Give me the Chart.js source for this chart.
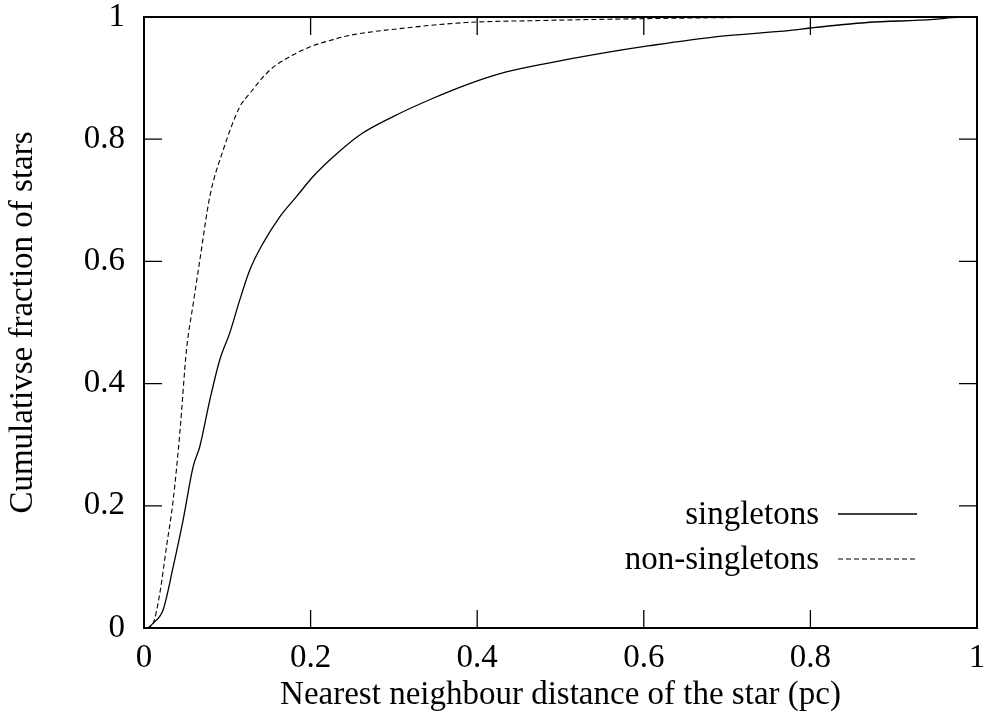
<!DOCTYPE html>
<html>
<head>
<meta charset="utf-8">
<script src="https://cdn.jsdelivr.net/npm/chart.js@4"></script>
<style>
  body { margin: 0; background: #fff; }
  canvas { display: block; }
</style>
</head>
<body>
<canvas id="cdf" width="987" height="717"></canvas>
<script>
// nearest neighbour distance (pc) and cumulative fraction, per population
const singletonDist = [0.005, 0.011, 0.023, 0.035, 0.047, 0.059, 0.067, 0.079, 0.091, 0.103,
  0.115, 0.127, 0.143, 0.163, 0.183, 0.203, 0.227, 0.259, 0.299, 0.347,
  0.387, 0.435, 0.487, 0.547, 0.607, 0.688, 0.776, 0.8,
  0.868, 0.948, 0.97, 1.0];
const singletonFrac = [0, 0.008, 0.03, 0.10, 0.177, 0.264, 0.297, 0.373, 0.439, 0.483,
  0.537, 0.586, 0.63, 0.673, 0.706, 0.739, 0.771, 0.807, 0.837, 0.867,
  0.889, 0.910, 0.925, 0.940, 0.953, 0.968, 0.978, 0.982,
  0.991, 0.996, 0.999, 1.0];

const nonSingletonDist = [0.003, 0.011, 0.019, 0.027, 0.035, 0.043, 0.051, 0.059, 0.067, 0.079,
  0.095, 0.115, 0.127, 0.151, 0.175, 0.199, 0.227, 0.247, 0.307, 0.387,
  0.467, 0.587, 0.7, 0.8, 1.0];
const nonSingletonFrac = [0, 0.008, 0.057, 0.133, 0.209, 0.319, 0.455, 0.53, 0.602, 0.706,
  0.782, 0.853, 0.875, 0.913, 0.935, 0.951, 0.963, 0.970, 0.981, 0.991,
  0.994, 0.997, 0.999, 1.0, 1.0];

const seriesNames = ['singletons', 'non-singletons'];
const xTicks = [0, 0.2, 0.4, 0.6, 0.8, 1];
const yTicks = [0, 0.2, 0.4, 0.6, 0.8, 1];
const xTitle = 'Nearest neighbour distance of the star (pc)';
const yTitle = 'Cumulativse fraction of stars';

const FONT = '"Liberation Serif", "DejaVu Serif", serif';
const FONT_SIZE = 33;

let toPoints = (xs, ys) => xs.map((x, i) => ({x: x, y: ys[i]}));

// gnuplot-style frame with inward ticks on all four sides
const framePlugin = {
  id: 'frame',
  afterDatasetsDraw(chart) {
    let ctx = chart.ctx;
    let a = chart.chartArea;
    let tick = 18;
    ctx.save();
    ctx.strokeStyle = '#000';
    ctx.lineWidth = 1.3;
    ctx.beginPath();
    chart.scales.x.ticks.forEach((t) => {
      let px = chart.scales.x.getPixelForValue(t.value);
      ctx.moveTo(px, a.bottom);
      ctx.lineTo(px, a.bottom - tick);
      ctx.moveTo(px, a.top);
      ctx.lineTo(px, a.top + tick);
    });
    chart.scales.y.ticks.forEach((t) => {
      let py = chart.scales.y.getPixelForValue(t.value);
      ctx.moveTo(a.left, py);
      ctx.lineTo(a.left + tick, py);
      ctx.moveTo(a.right, py);
      ctx.lineTo(a.right - tick, py);
    });
    ctx.stroke();
    ctx.lineWidth = 2;
    ctx.strokeRect(a.left, a.top, a.right - a.left, a.bottom - a.top);
    ctx.restore();
  }
};

// key in the lower right: text first, line sample after it
const keyPlugin = {
  id: 'key',
  afterDraw(chart) {
    let ctx = chart.ctx;
    let a = chart.chartArea;
    ctx.save();
    ctx.font = FONT_SIZE + 'px ' + FONT;
    ctx.fillStyle = '#000';
    ctx.textAlign = 'right';
    ctx.textBaseline = 'middle';
    chart.data.datasets.forEach((ds, i) => {
      let y = a.bottom - 114 + i * 45;
      ctx.fillText(ds.label, a.right - 158, y + 1);
      ctx.beginPath();
      ctx.strokeStyle = ds.borderColor;
      ctx.lineWidth = ds.borderWidth;
      ctx.setLineDash(ds.borderDash || []);
      ctx.moveTo(a.right - 139, y);
      ctx.lineTo(a.right - 60, y);
      ctx.stroke();
    });
    ctx.restore();
  }
};

let tickText = (v) => String(Math.round(v * 10) / 10);

let ctx = document.getElementById('cdf');
let chart = new Chart(ctx, {
  type: 'scatter',
  data: {
    datasets: [
      {
        label: seriesNames[0],
        data: toPoints(singletonDist, singletonFrac),
        showLine: true,
        borderColor: '#000',
        borderWidth: 1.3,
        pointRadius: 0,
        cubicInterpolationMode: 'monotone'
      },
      {
        label: seriesNames[1],
        data: toPoints(nonSingletonDist, nonSingletonFrac),
        showLine: true,
        borderColor: '#000',
        borderWidth: 1.1,
        borderDash: [5, 3],
        pointRadius: 0,
        cubicInterpolationMode: 'monotone'
      }
    ]
  },
  options: {
    responsive: false,
    animation: false,
    layout: {
      padding: {top: 17, right: 10, bottom: 0, left: 0}
    },
    plugins: {
      legend: {display: false},
      tooltip: {enabled: false}
    },
    scales: {
      x: {
        type: 'linear',
        min: 0,
        max: 1,
        afterBuildTicks: (s) => { s.ticks = xTicks.map(v => ({value: v})); },
        afterFit: (s) => { s.height = 89; s.paddingLeft = 0; s.paddingRight = 0; },
        grid: {display: false, drawTicks: false},
        border: {display: false},
        ticks: {
          color: '#000',
          padding: 11,
          maxRotation: 0,
          callback: tickText,
          font: {family: FONT, size: FONT_SIZE}
        },
        title: {
          display: true,
          text: xTitle,
          color: '#000',
          padding: {top: 0, bottom: 2},
          font: {family: FONT, size: FONT_SIZE}
        }
      },
      y: {
        type: 'linear',
        min: 0,
        max: 1,
        afterBuildTicks: (s) => { s.ticks = yTicks.map(v => ({value: v})); },
        afterFit: (s) => { s.width = 144; s.paddingTop = 0; s.paddingBottom = 0; },
        grid: {display: false, drawTicks: false},
        border: {display: false},
        ticks: {
          color: '#000',
          padding: 19,
          callback: tickText,
          font: {family: FONT, size: FONT_SIZE}
        },
        title: {
          display: true,
          text: yTitle,
          color: '#000',
          padding: {top: 4, bottom: 0},
          font: {family: FONT, size: FONT_SIZE}
        }
      }
    }
  },
  plugins: [framePlugin, keyPlugin]
});
</script>
</body>
</html>
